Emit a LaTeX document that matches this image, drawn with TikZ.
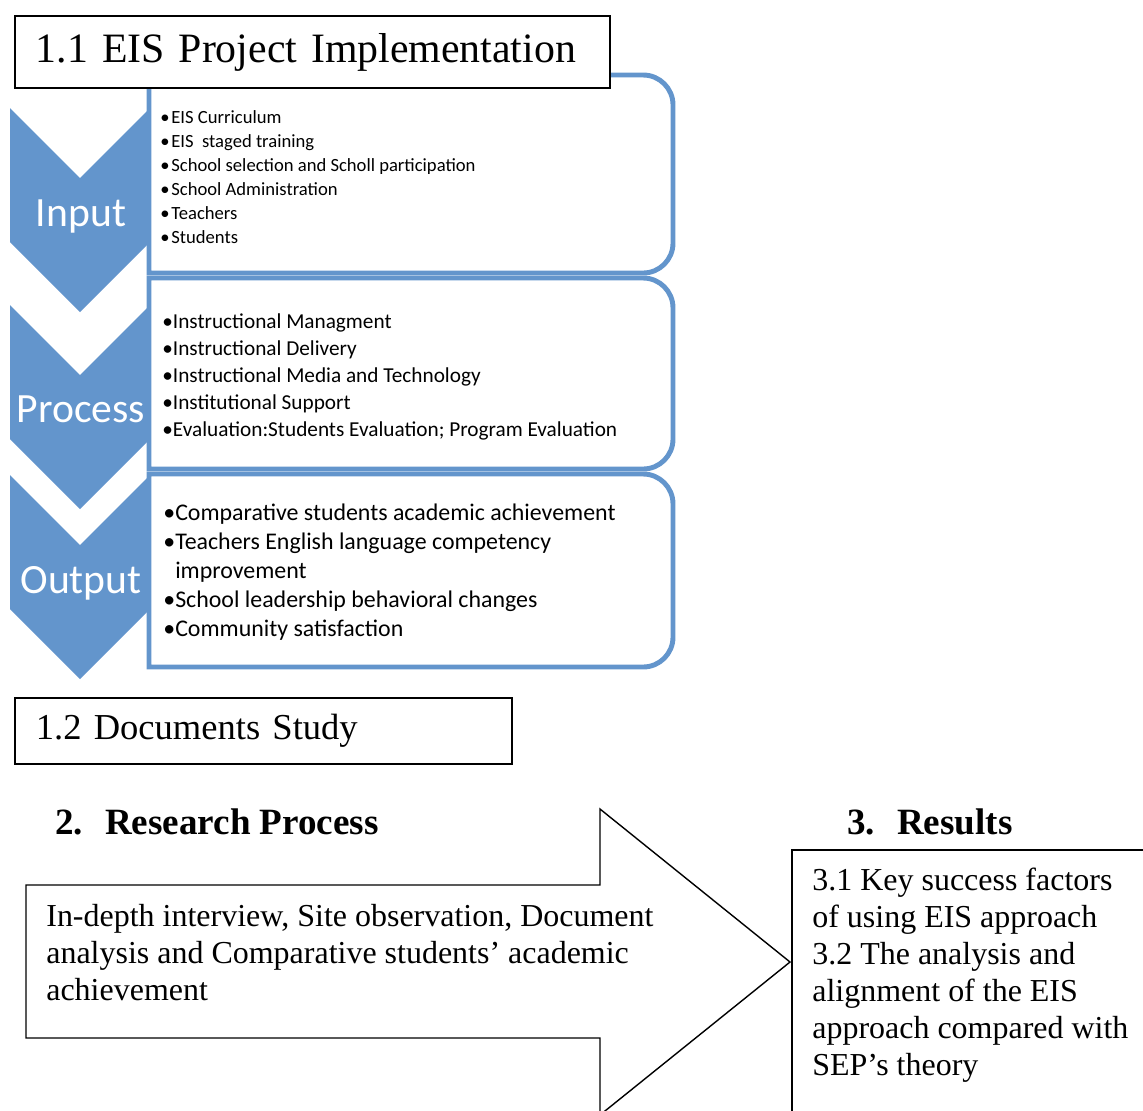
\documentclass[tikz,border=0pt]{standalone}
\usepackage{fontspec}
\setmainfont{Liberation Serif}
\newfontfamily\calibri{Carlito}
\usepackage{tikz}
\definecolor{eisblue}{RGB}{99,149,204}
\newcommand{\chevronat}[1]{\fill[chevron] (10,#1) -- (80,#1+70) -- (150,#1) -- (150,#1+134) -- (80,#1+204) -- (10,#1+134) -- cycle;}
\newcommand{\partframe}[2]{\draw[partbox] (149,#2) -- (149,#1) [rounded corners=17pt] -- (673,#1) -- (673,#2) [sharp corners] -- cycle;}
\tikzset{
  chevron/.style={fill=eisblue},
  partbox/.style={draw=eisblue, line width=2.8pt, fill=white},
  stage/.style={text=white, anchor=base, inner sep=0pt, font=\calibri\fontsize{23.7}{28}\selectfont},
  itemlist/.style={anchor=west, inner sep=0pt, align=left},
  headbox/.style={draw, line width=1.1pt, fill=white, anchor=north west, inner xsep=0.42cm, inner ysep=0pt},
  heading/.style={anchor=base west, inner sep=0pt, font=\bfseries\fontsize{21.1}{25}\selectfont},
  bodytext/.style={anchor=north west, inner sep=0pt, align=left, font=\fontsize{18.2}{21}\selectfont},
  blockarrow/.style={draw, line width=0.8pt, fill=white}
}

\begin{document}
\begin{tikzpicture}[x=0.02cm, y=-0.02cm]
\clip (0,0) rectangle (1143,1110);
%\draw[help lines, color=gray!30, dashed] (0,0) grid[step=50] (1143,1110);
% chevrons down the left side
\chevronat{108}
\chevronat{305}
\chevronat{475}
% list frames
\partframe{75}{273}
\partframe{278}{469}
\partframe{474}{667}
\node[stage] (input) at (81,226) {Input};
\node[stage] (process) at (81,422) {Process};
\node[stage] (output) at (81,593) {Output};
\node[itemlist, font=\calibri\fontsize{10.6}{13.7}\selectfont] (inputlist) at (160,177)
  {\textbullet\hspace{1pt}EIS Curriculum\\
   \textbullet\hspace{1pt}EIS\ \ staged training\\
   \textbullet\hspace{1pt}School selection and Scholl participation\\
   \textbullet\hspace{1pt}School Administration\\
   \textbullet\hspace{1pt}Teachers\\
   \textbullet\hspace{1pt}Students};
\node[itemlist, font=\calibri\fontsize{12.1}{15.4}\selectfont] (processlist) at (162,377)
  {\textbullet Instructional Managment\\
   \textbullet Instructional Delivery\\
   \textbullet Instructional Media and Technology\\
   \textbullet Institutional Support\\
   \textbullet Evaluation:Students Evaluation; Program Evaluation};
\node[itemlist, font=\calibri\fontsize{13.6}{16.5}\selectfont] (outputlist) at (163,572)
  {\textbullet Comparative students academic achievement\\
   \textbullet Teachers English language competency\\
   \hphantom{\textbullet}improvement\\
   \textbullet School leadership behavioral changes\\
   \textbullet Community satisfaction};
% section boxes
\node[headbox, text width=11.06cm, minimum height=1.44cm, font=\fontsize{23.8}{29}\selectfont] (eis) at (14,15) {1.1 EIS Project Implementation};
\node[headbox, text width=9.1cm, minimum height=1.32cm, font=\fontsize{20.8}{25}\selectfont] (docs) at (14,697) {1.2 Documents Study};
% research process and results
\node[heading] (research) at (55,834) {2.\hspace{12.5pt}Research Process};
\node[heading] (results) at (847,834) {3.\hspace{12.5pt}Results};
\node[draw, line width=1.1pt, anchor=north west, minimum width=8cm, minimum height=6cm] (resultbox) at (791,849) {};
\coordinate (tip) at (790,962);
\draw[blockarrow] (26,885) -- (600,885) -- (600,809) -- (tip) -- (600,1115) -- (600,1038) -- (26,1038) -- cycle;
\node[bodytext] (method) at (46,904)
  {In-depth interview, Site observation, Document\\
   analysis and Comparative students’ academic\\
   achievement};
\node[bodytext] (findings) at (812,868)
  {3.1 Key success factors\\
   of using EIS approach\\
   3.2 The analysis and\\
   alignment of the EIS\\
   approach compared with\\
   SEP’s theory};
\end{tikzpicture}
\end{document}
